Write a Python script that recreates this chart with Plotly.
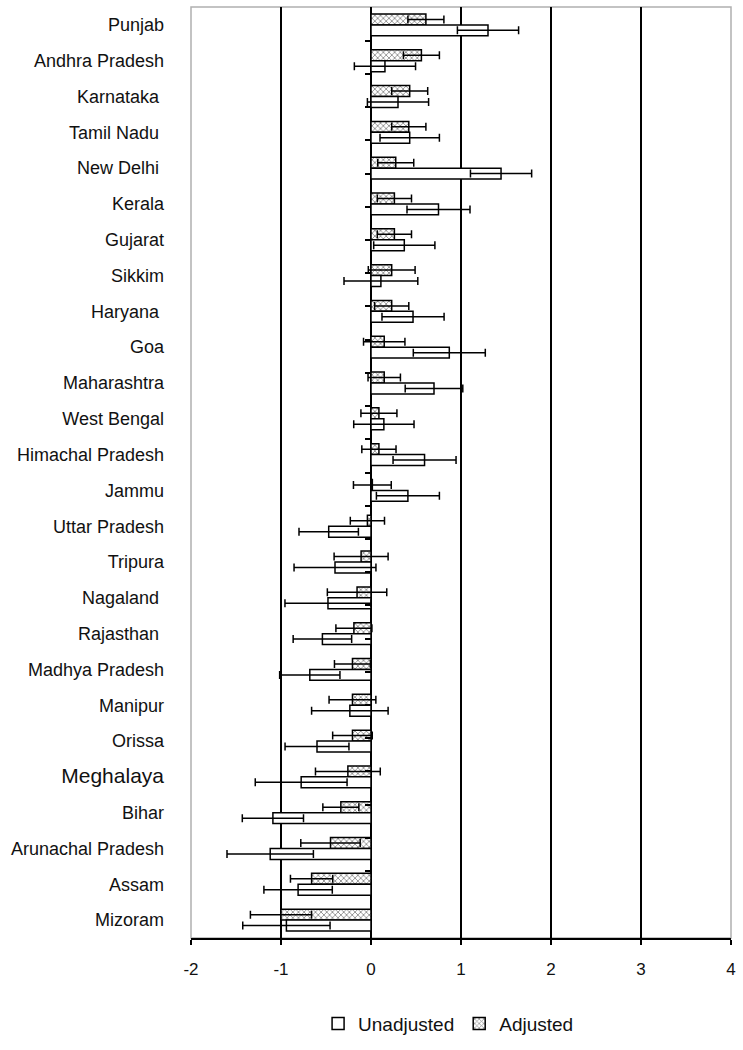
import plotly.graph_objects as go

states = ["Punjab", "Andhra Pradesh", "Karnataka", "Tamil Nadu", "New Delhi", "Kerala",
          "Gujarat", "Sikkim", "Haryana", "Goa", "Maharashtra", "West Bengal",
          "Himachal Pradesh", "Jammu", "Uttar Pradesh", "Tripura", "Nagaland", "Rajasthan",
          "Madhya Pradesh", "Manipur", "Orissa", "Meghalaya", "Bihar", "Arunachal Pradesh",
          "Assam", "Mizoram"]
tick_labels = ["Punjab", "Andhra Pradesh", "Karnataka ", "Tamil Nadu ", "New Delhi ", "Kerala",
               "Gujarat", "Sikkim", "Haryana ", "Goa", "Maharashtra", "West Bengal",
               "Himachal Pradesh", "Jammu", "Uttar Pradesh", "Tripura", "Nagaland ", "Rajasthan ",
               "Madhya Pradesh", "Manipur", "Orissa", "<span style='font-size:21px'>Meghalaya</span>",
               "Bihar", "Arunachal Pradesh", "Assam", "Mizoram"]

adjusted = [0.61, 0.56, 0.43, 0.42, 0.275, 0.26, 0.26, 0.23, 0.23, 0.147, 0.147, 0.088, 0.088,
            0.015, -0.04, -0.11, -0.155, -0.19, -0.206, -0.206, -0.206, -0.257, -0.335, -0.45,
            -0.66, -1.0]
adjusted_err = [0.20, 0.20, 0.20, 0.19, 0.20, 0.19, 0.19, 0.26, 0.19, 0.23, 0.18, 0.20, 0.19,
                0.21, 0.19, 0.30, 0.33, 0.20, 0.20, 0.26, 0.22, 0.36, 0.20, 0.33, 0.235, 0.34]
unadjusted = [1.30, 0.155, 0.30, 0.43, 1.445, 0.75, 0.37, 0.11, 0.467, 0.87, 0.70, 0.143, 0.595,
              0.41, -0.47, -0.40, -0.478, -0.54, -0.68, -0.235, -0.60, -0.776, -1.09, -1.12,
              -0.81, -0.94]
unadjusted_err = [0.34, 0.34, 0.34, 0.33, 0.34, 0.35, 0.34, 0.41, 0.345, 0.40, 0.32, 0.335, 0.35,
                  0.35, 0.33, 0.455, 0.478, 0.325, 0.335, 0.425, 0.355, 0.51, 0.34, 0.48, 0.38,
                  0.485]
x_ticks = [-2, -1, 0, 1, 2, 3, 4]
grid_ticks = [-1, 1, 2, 3]
x_range = [-2, 4]

FONT = "Liberation Sans, Arial, sans-serif"

fig = go.Figure()
fig.add_trace(go.Bar(
    name="Adjusted", y=states, x=adjusted, orientation="h",
    marker=dict(color="white", line=dict(color="black", width=1.5),
                pattern=dict(shape="x", size=4, solidity=0.4, fgcolor="#222", bgcolor="white")),
    error_x=dict(type="data", array=adjusted_err, color="black", thickness=1.5, width=4),
    legendrank=2,
))
fig.add_trace(go.Bar(
    name="Unadjusted", y=states, x=unadjusted, orientation="h",
    marker=dict(color="white", line=dict(color="black", width=1.5)),
    error_x=dict(type="data", array=unadjusted_err, color="black", thickness=1.5, width=4),
    legendrank=1,
))
# invisible trace carrying the grid axis and the tick axis drawn at zero
fig.add_trace(go.Scatter(
    y=states, x=[0] * len(states), xaxis="x2", yaxis="y2", mode="markers",
    marker=dict(opacity=0), showlegend=False, hoverinfo="skip",
))

fig.update_layout(
    width=743, height=1050,
    margin=dict(l=191, r=9, t=7, b=108),
    paper_bgcolor="white", plot_bgcolor="white",
    barmode="group", bargap=0.39, bargroupgap=0,
    font=dict(family=FONT, size=17, color="#111"),
    showlegend=True,
    legend=dict(orientation="h", x=0.477, xanchor="center", y=-0.092, yanchor="middle",
                font=dict(size=19, family=FONT), itemwidth=30, tracegroupgap=0),
    xaxis=dict(range=x_range, tickvals=x_ticks, ticktext=[str(v) for v in x_ticks],
               showgrid=False,
               zeroline=True, zerolinecolor="black", zerolinewidth=1.5,
               showline=True, linecolor="black", linewidth=1.5,
               ticks="outside", ticklen=5, tickcolor="black", tickwidth=1.5,
               ticklabelstandoff=10, tickfont=dict(size=17, family=FONT)),
    xaxis2=dict(range=x_range, overlaying="x", anchor="y2", side="bottom",
                tickvals=grid_ticks, showticklabels=False, ticks="",
                showgrid=True, gridcolor="black", gridwidth=1.5,
                zeroline=False, showline=False),
    yaxis=dict(categoryorder="array", categoryarray=states, autorange="reversed",
               tickmode="array", tickvals=states, ticktext=tick_labels,
               showgrid=False, zeroline=False, showline=False, ticks="",
               ticklabelstandoff=26, tickfont=dict(size=18, family=FONT)),
    yaxis2=dict(categoryorder="array", categoryarray=states, autorange="reversed",
                overlaying="y", anchor="free", position=1 / 3, side="left",
                showgrid=False, zeroline=False, showline=False, showticklabels=False,
                ticks="outside", tickson="boundaries", ticklen=6, tickcolor="black",
                tickwidth=1.5),
    shapes=[dict(type="rect", xref="paper", yref="paper", x0=0, x1=1, y0=0, y1=1,
                 line=dict(color="#b0b0b0", width=1.5), layer="below")],
)

fig.write_html("out.html", config={"displayModeBar": False},
               post_script="document.body.style.margin='0';")
